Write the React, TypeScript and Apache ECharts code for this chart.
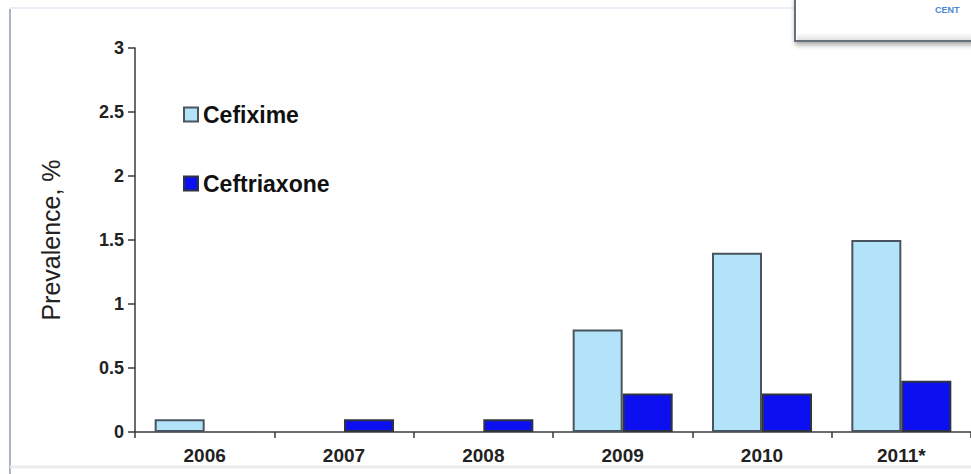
import React, { useEffect, useRef } from "react";
import * as echarts from "echarts";

// Prevalence of reduced cephalosporin susceptibility by year
const categories = ["2006", "2007", "2008", "2009", "2010", "2011*"];
const cefixime = [0.1, 0, 0, 0.8, 1.4, 1.5];
const ceftriaxone = [0, 0.1, 0.1, 0.3, 0.3, 0.4];

const FONT = "'Liberation Sans', Arial, Helvetica, sans-serif";

// a zero value draws no bar at all
const asBars = (values: number[]) => values.map((v) => (v === 0 ? "-" : v));

export default function App() {
  const ref = useRef<HTMLDivElement>(null);

  useEffect(() => {
    if (!ref.current) return;
    const chart = echarts.init(ref.current, null, { renderer: "svg" });
    chart.setOption({
      animation: false,
      backgroundColor: "#ffffff",
      textStyle: { fontFamily: FONT },
      grid: { left: 135, top: 48, width: 843, height: 384 },
      legend: {
        orient: "vertical",
        left: 178,
        top: 98,
        itemWidth: 14,
        itemHeight: 14,
        itemGap: 46,
        icon: "rect",
        textStyle: { fontFamily: FONT, fontSize: 23, fontWeight: "bold", color: "#111" },
        data: ["Cefixime", "Ceftriaxone"],
      },
      xAxis: {
        type: "category",
        data: categories,
        axisLine: { lineStyle: { color: "#3a3a3a", width: 1.5 } },
        axisTick: { show: true, length: 6, alignWithLabel: false, lineStyle: { color: "#3a3a3a", width: 1.5 } },
        axisLabel: { margin: 14, fontFamily: FONT, fontSize: 19, fontWeight: "bold", color: "#222" },
      },
      yAxis: {
        type: "value",
        min: 0,
        max: 3,
        interval: 0.5,
        name: "Prevalence, %",
        nameLocation: "middle",
        nameGap: 72,
        nameTextStyle: { fontFamily: FONT, fontSize: 25, color: "#222" },
        axisLine: { show: true, lineStyle: { color: "#3a3a3a", width: 1.5 } },
        axisTick: { show: true, length: 7, lineStyle: { color: "#3a3a3a", width: 1.5 } },
        splitLine: { show: false },
        axisLabel: { margin: 11, fontFamily: FONT, fontSize: 18, fontWeight: "bold", color: "#222" },
      },
      series: [
        {
          name: "Cefixime",
          type: "bar",
          data: asBars(cefixime),
          barWidth: 50,
          barGap: "0%",
          itemStyle: { color: "#b2e3f9", borderColor: "#4a545e", borderWidth: 2 },
        },
        {
          name: "Ceftriaxone",
          type: "bar",
          data: asBars(ceftriaxone),
          barWidth: 50,
          barGap: "0%",
          itemStyle: { color: "#0c10f0", borderColor: "#2e3440", borderWidth: 2 },
        },
      ],
      graphic: [
        // slide frame
        { type: "line", shape: { x1: 10, y1: 8, x2: 971, y2: 8 }, style: { stroke: "#e2eaf3", lineWidth: 1.5 }, silent: true },
        { type: "line", shape: { x1: 10, y1: 9, x2: 10, y2: 474 }, style: { stroke: "#a9b5c5", lineWidth: 2 }, silent: true },
        { type: "line", shape: { x1: 10, y1: 467, x2: 971, y2: 467 }, style: { stroke: "#ececec", lineWidth: 3 }, silent: true },
        // header box in the corner
        {
          type: "rect",
          z: 100,
          shape: { x: 795, y: -5, width: 200, height: 46 },
          style: {
            fill: "#ffffff",
            stroke: "#66707a",
            lineWidth: 2,
            shadowBlur: 5,
            shadowOffsetY: 3,
            shadowOffsetX: 1,
            shadowColor: "rgba(0,0,0,0.35)",
          },
          silent: true,
        },
        {
          type: "rect",
          z: 101,
          shape: { x: 797, y: 33, width: 180, height: 7 },
          style: {
            fill: new echarts.graphic.LinearGradient(0, 0, 0, 1, [
              { offset: 0, color: "#ffffff" },
              { offset: 1, color: "#e2e2e2" },
            ]),
          },
          silent: true,
        },
        {
          type: "text",
          z: 102,
          x: 935,
          y: 10,
          style: {
            text: "CENT",
            fontFamily: FONT,
            fontSize: 9,
            fontWeight: "bold",
            fill: "#4a86d4",
            verticalAlign: "middle",
          },
          silent: true,
        },
      ],
    });
    return () => chart.dispose();
  }, []);

  return (
    <div
      ref={ref}
      style={{ position: "fixed", left: 0, top: 0, width: 971, height: 474 }}
    />
  );
}
